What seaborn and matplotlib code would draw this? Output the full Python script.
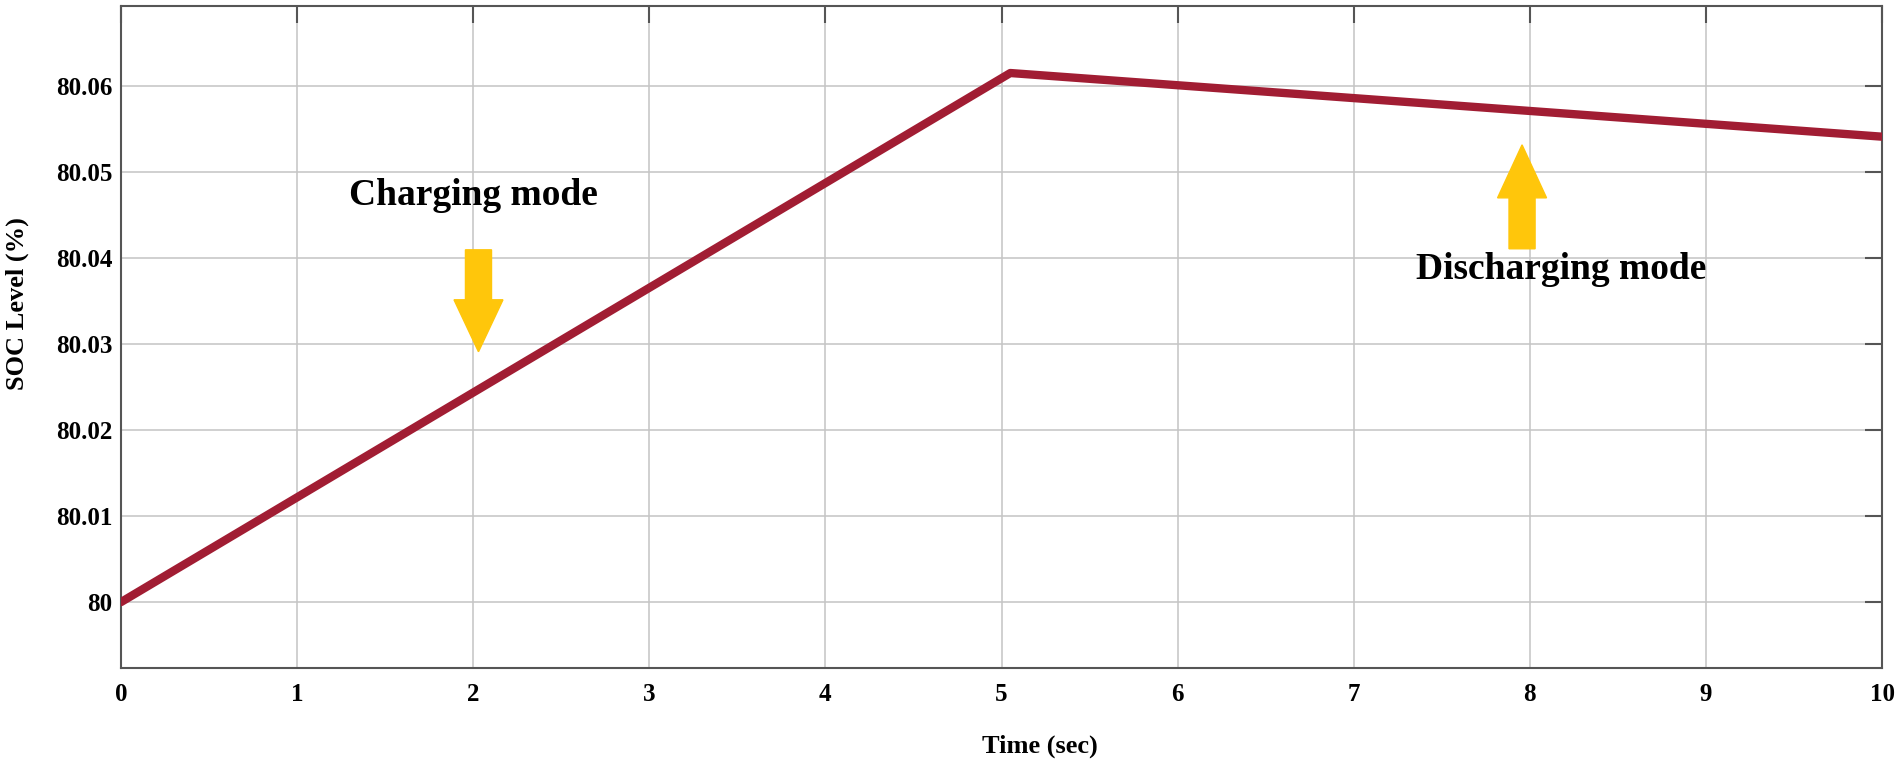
import matplotlib
matplotlib.use("Agg")
import matplotlib.pyplot as plt
import matplotlib.patches as mpatches
import seaborn as sns

# SOC trace (breakpoints)
time_sec = [0.0, 5.05, 10.0]
soc_level = [80.0, 80.0615, 80.0541]

x_ticks = [0, 1, 2, 3, 4, 5, 6, 7, 8, 9, 10]
y_ticks = [80.0, 80.01, 80.02, 80.03, 80.04, 80.05, 80.06]
y_tick_labels = ["80", "80.01", "80.02", "80.03", "80.04", "80.05", "80.06"]

sns.set_theme(style="whitegrid")
plt.rcParams['font.family'] = ['Liberation Serif', 'DejaVu Serif']
plt.rcParams['font.weight'] = 'bold'
plt.rcParams['text.color'] = 'black'
plt.rcParams['axes.labelcolor'] = 'black'

fig, ax = plt.subplots(figsize=(19, 7.61), dpi=100)
fig.subplots_adjust(left=121 / 1900, right=1882 / 1900, top=1 - 6 / 761, bottom=1 - 668 / 761)

sns.lineplot(x=time_sec, y=soc_level, ax=ax, color="#A11D33", linewidth=6, zorder=3)

ax.set_xlim(0, 10)
ax.set_ylim(79.99234, 80.06929)
ax.set_xticks(x_ticks)
ax.set_yticks(y_ticks)
ax.set_yticklabels(y_tick_labels)

ax.set_facecolor("white")
ax.grid(True, color="#c4c4c4", linewidth=1.1)
for sp in ax.spines.values():
    sp.set_color("#555555")
    sp.set_linewidth(1.5)

ax.tick_params(axis="both", direction="in", length=12, width=1.5, color="#555555",
               labelsize=18, top=True, right=True, labelcolor="black")
ax.tick_params(axis="x", pad=11)
ax.tick_params(axis="y", pad=6)
for lab in ax.get_xticklabels() + ax.get_yticklabels():
    lab.set_fontweight("bold")

ax.set_xlabel("Time (sec)", fontsize=19, fontweight="bold")
ax.set_ylabel("SOC Level (%)", fontsize=19, fontweight="bold")
ax.xaxis.set_label_coords(0.522, -0.1)
ax.yaxis.set_label_coords(-0.0525, 0.55)

# mode annotations
ax.text(2.0, 80.0473, "Charging mode", fontsize=27, fontweight="bold", ha="center", va="center")
ax.text(8.18, 80.0387, "Discharging mode", fontsize=27, fontweight="bold", ha="center", va="center")

gold = "#FFC60B"
ax.add_patch(mpatches.FancyArrow(2.03, 80.04095, 0, -0.01185, width=0.148, head_width=0.278,
                                 head_length=0.00604, length_includes_head=True,
                                 color=gold, zorder=2.5))
ax.add_patch(mpatches.FancyArrow(7.956, 80.04107, 0, 0.01208, width=0.148, head_width=0.278,
                                 head_length=0.00616, length_includes_head=True,
                                 color=gold, zorder=2.5))

plt.savefig("out.png", dpi=100)
